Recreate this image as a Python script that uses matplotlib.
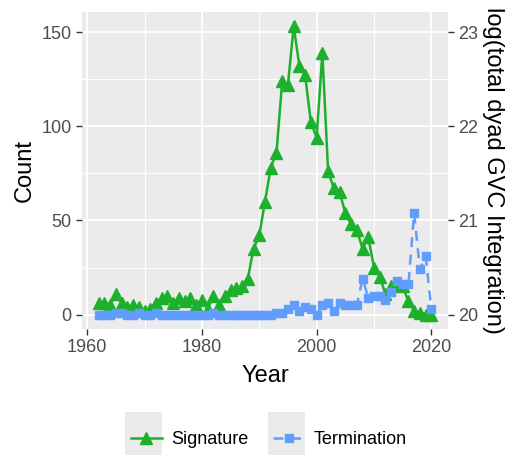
import matplotlib
matplotlib.use("Agg")
import matplotlib.pyplot as plt
from matplotlib.patches import Rectangle

years = list(range(1962, 2021))

signature = [6, 6, 5, 11, 6, 4, 5, 4, 2, 3,
             6, 9, 10, 6, 9, 7, 9, 5, 8, 3,
             10, 5, 10, 13, 14, 15, 19, 35, 42, 60,
             78, 86, 124, 122, 153, 132, 127, 102, 94, 139,
             76, 67, 65, 54, 48, 45, 35, 41, 25, 20,
             11, 15, 16, 15, 7, 2, 1, 0, 0]

termination = [0, 0, 0, 1, 1, 0, 0, 1, 0, 0,
               1, 0, 0, 0, 0, 0, 0, 0, 0, 0,
               1, 0, 0, 0, 0, 0, 0, 0, 0, 0,
               0, 1, 1, 3, 5, 2, 4, 3, 0, 5,
               6, 2, 6, 5, 5, 5, 19, 9, 10, 10,
               8, 12, 18, 16, 16, 54, 24, 31, 3]

y_ticks = [0, 50, 100, 150]
x_ticks = [1960, 1980, 2000, 2020]
right_ticks = [20, 21, 22, 23]

GREEN = "#1DB02C"
BLUE = "#619CFF"

plt.rcParams["font.family"] = ["Liberation Sans", "DejaVu Sans"]

fig = plt.figure(figsize=(5.06, 4.55), dpi=100)
ax = fig.add_axes([82 / 506, 1 - 329 / 455, (448 - 82) / 506, (329 - 12) / 455])

ax.set_facecolor("#EBEBEB")
for s in ax.spines.values():
    s.set_visible(False)

ax.plot(years, signature, color=GREEN, lw=1.8, marker="^", ms=8,
        label="Signature", zorder=3)
ax.plot(years, termination, color=BLUE, lw=1.8, ls=(0, (4, 3)), marker="s",
        ms=5.5, label="Termination", zorder=3)

ax.set_xlim(1959.1, 2022.9)
ax.set_ylim(-7.65, 160.65)
ax.set_xticks(x_ticks)
ax.set_yticks(y_ticks)
ax.set_xticks([1970, 1990, 2010], minor=True)
ax.set_yticks([25, 75, 125], minor=True)
ax.grid(which="major", color="white", lw=1.3)
ax.grid(which="minor", color="white", lw=0.7)
ax.set_axisbelow(True)
ax.tick_params(which="major", colors="#333333", length=4, width=1,
               labelsize=13, labelcolor="#4D4D4D")
ax.tick_params(which="minor", length=0)

ax.set_xlabel("Year", fontsize=17, labelpad=6)
ax.set_ylabel("Count", fontsize=17, labelpad=4)

sec = ax.secondary_yaxis("right", functions=(lambda y: 20 + y / 50,
                                             lambda v: (v - 20) * 50))
sec.set_yticks(right_ticks)
for s in sec.spines.values():
    s.set_visible(False)
sec.tick_params(colors="#333333", length=4, width=1, labelsize=13,
                labelcolor="#4D4D4D")
sec.set_ylabel("log(total dyad GVC Integration)", fontsize=17, rotation=270,
               labelpad=18)

# grey legend key backgrounds
for x0 in (125, 268):
    fig.patches.append(Rectangle((x0 / 506, 0), 37 / 506, 43 / 455,
                                 transform=fig.transFigure,
                                 facecolor="#EBEBEB", edgecolor="none",
                                 zorder=0))

fig.legend(loc="center", bbox_to_anchor=(269 / 506, 1 - 440 / 455), ncol=2,
           frameon=False, fontsize=13, handlelength=1.7, columnspacing=1.35,
           handletextpad=0.55)

fig.savefig("out.png", dpi=100)
